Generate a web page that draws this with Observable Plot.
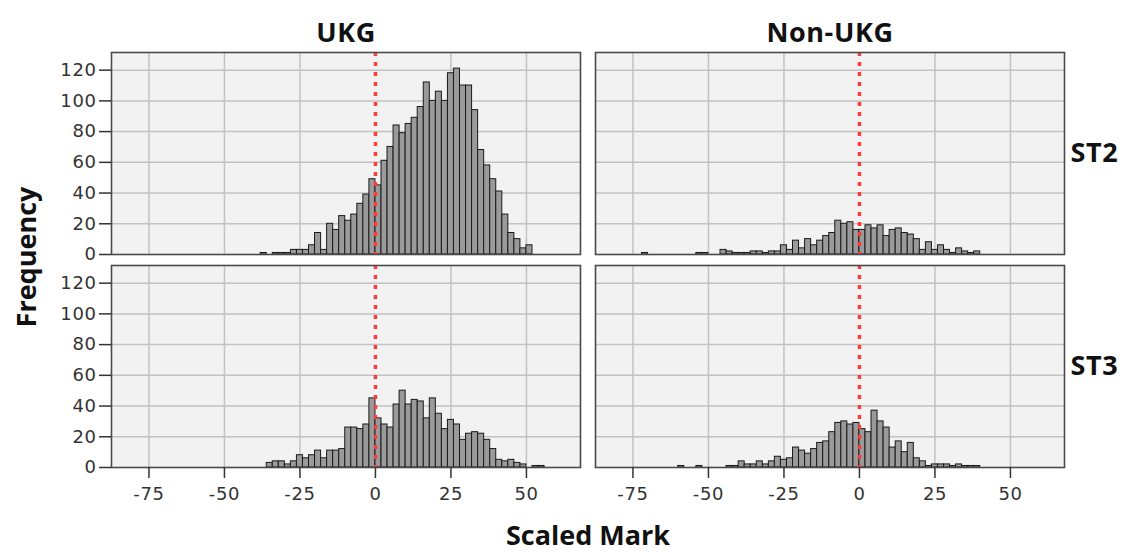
<!DOCTYPE html>
<html><head><meta charset="utf-8">
<script src="https://cdn.jsdelivr.net/npm/d3@7"></script>
<script src="https://cdn.jsdelivr.net/npm/@observablehq/plot@0.6"></script>
<style>
body{margin:0;background:#fff;}
#wrap{position:relative;width:1125px;height:553px;overflow:hidden;}
#wrap svg{display:block;}
.t{position:absolute;font-family:"Open Sans";font-weight:bold;font-size:27px;color:#111;white-space:nowrap;line-height:1.1;}
</style></head><body>
<div id="wrap"></div>
<script>
const columns = ["UKG", "Non-UKG"];
const rows = ["ST2", "ST3"];
const binWidth = 2;
const xTicks = [-75, -50, -25, 0, 25, 50];
const gridXTicks = [-75, -50, -25, 25, 50];
const yTicks = [0, 20, 40, 60, 80, 100, 120];
const xLabel = "Scaled Mark";
const yLabel = "Frequency";

// counts per 2-unit bin, starting at the given lower edge
const ukgST2Start = -38;
const ukgST2 = [1,0,1,1,1,3,3,3,6,14,3,20,16,25,22,26,33,39,49,45,61,70,84,79,85,89,96,112,100,106,100,118,121,110,110,94,68,58,49,41,26,14,10,4,6];
const nonUkgST2Start = -72;
const nonUkgST2 = [1,0,0,0,0,0,0,0,0,1,1,0,0,3,2,1,1,1,2,2,1,2,2,6,3,9,4,10,6,9,12,14,22,20,21,16,16,19,17,19,12,16,17,14,13,10,3,8,3,6,3,1,4,2,1,2];
const ukgST3Start = -36;
const ukgST3 = [3,4,4,2,4,8,6,8,11,6,11,11,12,26,26,25,28,45,32,28,26,41,50,41,44,43,32,45,35,25,31,28,18,22,23,22,18,12,5,4,5,3,2,0,1,1];
const nonUkgST3Start = -60;
const nonUkgST3 = [1,0,0,1,0,0,0,0,1,1,4,2,2,4,2,4,7,5,6,13,11,9,12,16,17,23,29,30,28,29,25,23,37,30,26,13,17,10,16,6,4,1,2,2,2,1,2,1,1,1];

const series = [
  {col: "UKG", row: "ST2", start: ukgST2Start, counts: ukgST2},
  {col: "Non-UKG", row: "ST2", start: nonUkgST2Start, counts: nonUkgST2},
  {col: "UKG", row: "ST3", start: ukgST3Start, counts: ukgST3},
  {col: "Non-UKG", row: "ST3", start: nonUkgST3Start, counts: nonUkgST3}
];
const data = series.flatMap(s => s.counts.map((c, i) => ({
  col: s.col, row: s.row,
  x1: s.start + i * binWidth, x2: s.start + (i + 1) * binWidth, count: c
}))).filter(d => d.count > 0);

const chart = Plot.plot({
  width: 1125,
  height: 553,
  marginLeft: 111,
  marginRight: 61,
  marginTop: 52,
  marginBottom: 86,
  style: {fontFamily: "DejaVu Sans", fontSize: "18px", color: "#333", background: "#fff", letterSpacing: "0.6px"},
  fx: {domain: columns, paddingInner: 15 / 484, paddingOuter: 0, align: 0.5},
  fy: {domain: rows, paddingInner: 11 / 213, paddingOuter: 0, align: 0.5},
  x: {domain: [-87.4, 67.9]},
  y: {domain: [0, 131.5]},
  marks: [
    Plot.frame({fill: "#f2f2f2"}),
    Plot.gridX({ticks: gridXTicks, stroke: "#c2c2c2", strokeOpacity: 1, strokeWidth: 1.5}),
    Plot.gridY({ticks: yTicks.slice(1), stroke: "#c2c2c2", strokeOpacity: 1, strokeWidth: 1.5}),
    Plot.rectY(data, {x1: "x1", x2: "x2", y: "count", fx: "col", fy: "row",
      fill: "#9a9a9a", stroke: "#1a1a1a", strokeWidth: 1, inset: 0}),
    Plot.ruleX([0], {stroke: "#ff3a3a", strokeWidth: 3.5, strokeDasharray: "4,6"}),
    Plot.frame({stroke: "#4a4a4a", strokeWidth: 1.6}),
    Plot.axisY({ticks: yTicks, tickSize: 12, tickPadding: 3, label: null, stroke: "#333", strokeWidth: 1.5}),
    Plot.axisX({ticks: xTicks, tickSize: 11, tickPadding: 9, label: null, tickFormat: d => String(d), stroke: "#333", strokeWidth: 1.5}),
    Plot.axisFx({anchor: "top", tickSize: 0, tickPadding: 11, label: null,
      fontFamily: "Open Sans", fontWeight: "bold", fontSize: 27, fill: "#111", letterSpacing: "0px"}),
    Plot.axisFy({anchor: "right", tickSize: 0, tickPadding: 6, label: null,
      fontFamily: "Open Sans", fontWeight: "bold", fontSize: 27, fill: "#111", letterSpacing: "0px"})
  ]
});
const wrap = document.getElementById("wrap");
wrap.appendChild(chart);

const yl = document.createElement("div");
yl.className = "t";
yl.textContent = yLabel;
yl.style.left = "26px"; yl.style.top = "257px";
yl.style.transform = "translate(-50%,-50%) rotate(-90deg)";
wrap.appendChild(yl);

const xl = document.createElement("div");
xl.className = "t";
xl.textContent = xLabel;
xl.style.left = "588px"; xl.style.top = "535px";
xl.style.transform = "translate(-50%,-50%)";
wrap.appendChild(xl);
</script>
</body></html>
